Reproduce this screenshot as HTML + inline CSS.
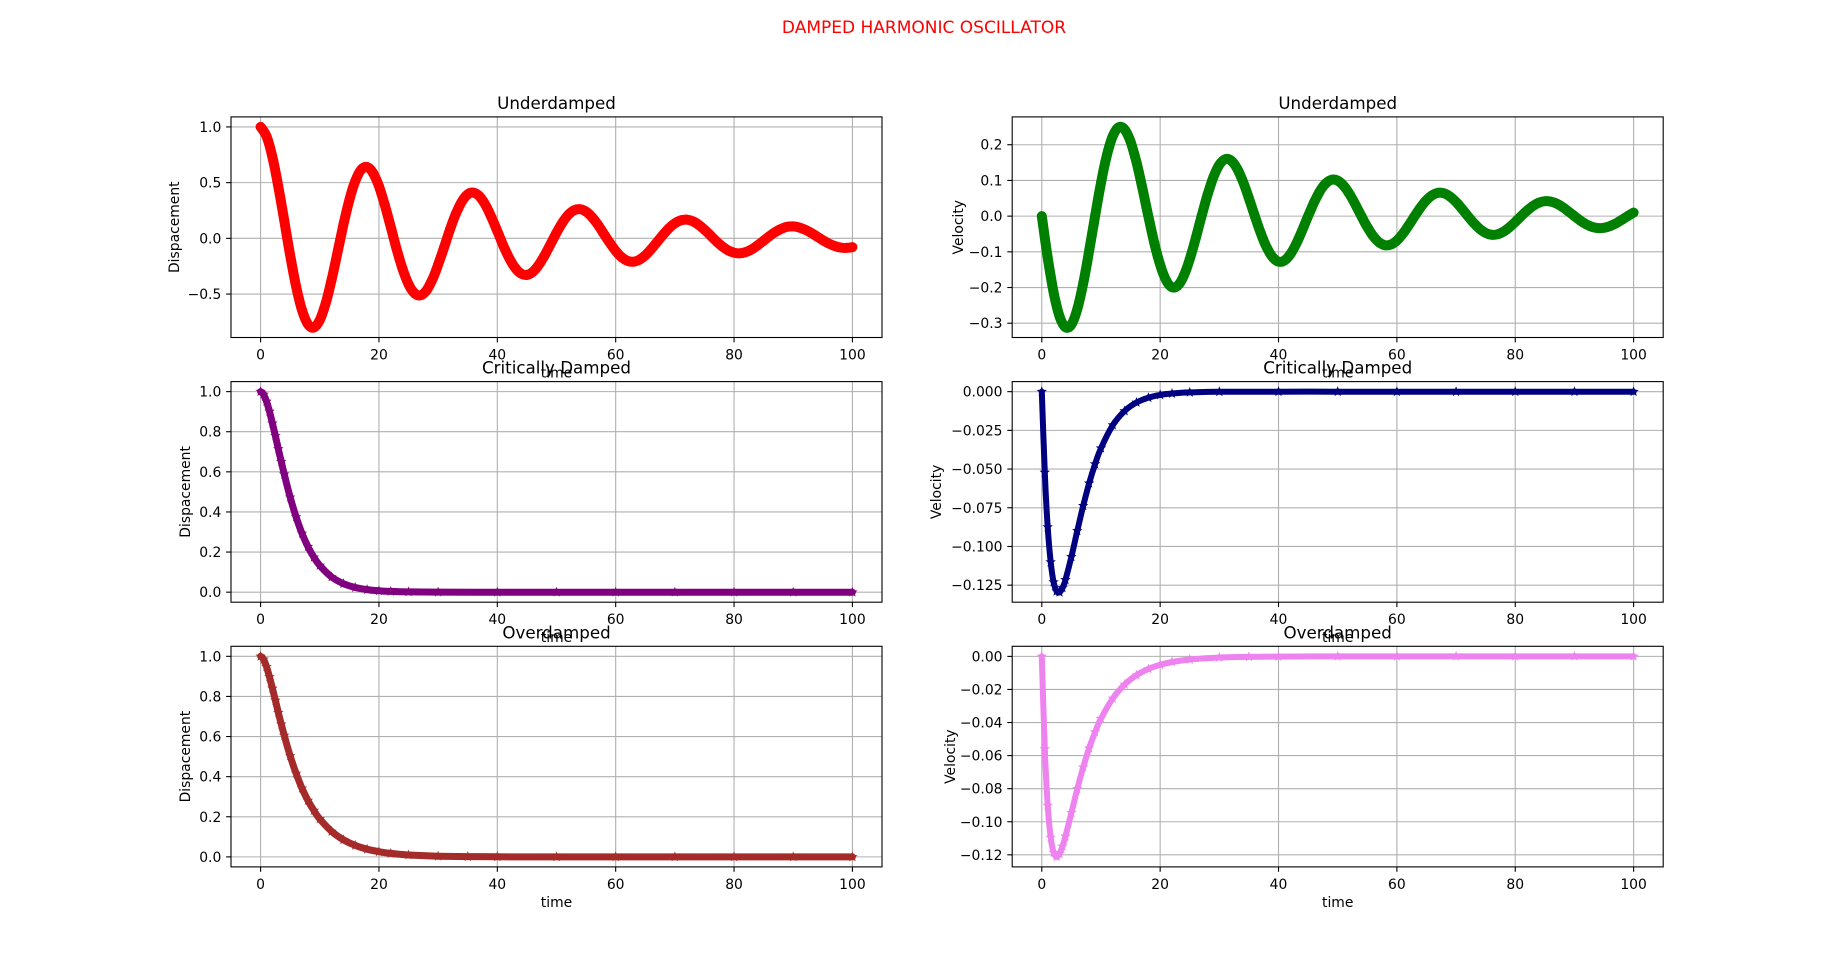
<!DOCTYPE html>
<html><head><meta charset="utf-8"><style>
html,body{margin:0;padding:0;background:#fff;}
svg{display:block;font-family:"DejaVu Sans","Liberation Sans",sans-serif;}
</style></head><body>
<svg id="fig" width="1848" height="974" viewBox="0 0 1848 974" xmlns="http://www.w3.org/2000/svg">
<rect width="1848" height="974" fill="#fff"/>
<text x="924" y="33" text-anchor="middle" font-size="17" fill="#ff0000">DAMPED HARMONIC OSCILLATOR</text>
</svg>
<script>
const udTime = [0,1,2,3,4,5,6,7,8,9,10,11,12,13,14,15,16,17,18,19,20,21,22,23,24,25,26,27,28,29,30,31,32,33,34,35,36,37,38,39,40,41,42,43,44,45,46,47,48,49,50,51,52,53,54,55,56,57,58,59,60,61,62,63,64,65,66,67,68,69,70,71,72,73,74,75,76,77,78,79,80,81,82,83,84,85,86,87,88,89,90,91,92,93,94,95,96,97,98,99,100];
const udDisp = [1,.917,.729,.464,.158,-.154,-.431,-.644,-.771,-.800,-.734,-.583,-.371,-.126,.123,.345,.515,.617,
.640,.587,.467,.297,.101,-.099,-.276,-.412,-.493,-.512,-.470,-.373,-.237,-.081,.079,.221,.330,.395,
.410,.376,.299,.190,.065,-.063,-.177,-.264,-.316,-.328,-.301,-.239,-.152,-.052,.050,.141,.211,.253,
.262,.240,.191,.122,.041,-.040,-.113,-.169,-.202,-.210,-.192,-.153,-.097,-.033,.032,.090,.135,.162,
.168,.154,.122,.078,.027,-.026,-.072,-.108,-.129,-.134,-.123,-.098,-.062,-.021,.021,.058,.086,.104,
.107,.098,.078,.050,.017,-.017,-.046,-.069,-.083,-.086,-.079];
const udVel = [0,-.1164,-.2136,-.2806,-.3113,-.3037,-.2605,-.1887,-.0979,0,.0931,.1708,.2245,.2490,.2429,.2084,.1509,.0783,
0,-.0745,-.1367,-.1796,-.1992,-.1944,-.1667,-.1208,-.0627,0,.0596,.1093,.1437,.1594,.1555,.1334,.0966,.0501,
0,-.0477,-.0875,-.1149,-.1275,-.1244,-.1067,-.0773,-.0401,0,.0381,.0700,.0920,.1020,.0995,.0854,.0618,.0321,
0,-.0305,-.0560,-.0735,-.0816,-.0796,-.0683,-.0495,-.0257,0,.0244,.0448,.0588,.0653,.0637,.0546,.0396,.0205,
0,-.0195,-.0358,-.0471,-.0522,-.0510,-.0437,-.0317,-.0164,0,.0156,.0287,.0377,.0418,.0408,.0350,.0253,.0131,
0,-.0125,-.0229,-.0301,-.0334,-.0326,-.0280,-.0203,-.0105,0,.0100];
const cdTime = [0,0.5,1,1.5,2,2.5,3,3.5,4,5,6,7,8,9,10,12,14,16,18,20,22,25,30,40,50,60,70,80,90,100];
const cdDisp = [1,.986,.951,.901,.842,.779,.714,.650,.588,.473,.375,.293,.227,.174,.133,.0758,.0424,.0235,.0128,.0069,.0037,.0015,.0003,0,0,0,0,0,0,0];
const cdVel = [0,-.0522,-.0875,-.1101,-.1230,-.1289,-.1296,-.1268,-.1215,-.1067,-.0899,-.0737,-.0592,-.0468,-.0365,-.0216,-.0125,-.0070,-.0039,-.0021,-.0012,-.0005,-.0001,0,0,0,0,0,0,0];
const odTime = [0,0.5,1,1.5,2,2.5,3,3.5,4,5,6,7,8,9,10,12,14,16,18,20,22,25,30,35,40,50,60,70,80,90,100];
const odDisp = [1,.985,.948,.897,.840,.780,.719,.661,.605,.503,.416,.342,.281,.231,.189,.127,.0851,.0571,.0382,.0256,.0172,.0094,.0035,.0013,.0004,0,0,0,0,0,0];
const odVel = [0,-.0560,-.0902,-.1095,-.1186,-.1212,-.1194,-.1149,-.1088,-.0946,-.0801,-.0670,-.0555,-.0458,-.0376,-.0254,-.0170,-.0114,-.0076,-.0051,-.0034,-.0019,-.0007,-.0003,-.0001,0,0,0,0,0,0];
const xTicks = [0,20,40,60,80,100];
const udDispTicks = [-0.5,0,0.5,1.0];
const udDispTickLabels = ["−0.5","0.0","0.5","1.0"];
const udVelTicks = [-0.3,-0.2,-0.1,0,0.1,0.2];
const udVelTickLabels = ["−0.3","−0.2","−0.1","0.0","0.1","0.2"];
const dispTicks = [0,0.2,0.4,0.6,0.8,1.0];
const dispTickLabels = ["0.0","0.2","0.4","0.6","0.8","1.0"];
const cdVelTicks = [0,-0.025,-0.05,-0.075,-0.1,-0.125];
const cdVelTickLabels = ["0.000","−0.025","−0.050","−0.075","−0.100","−0.125"];
const odVelTicks = [0,-0.02,-0.04,-0.06,-0.08,-0.1,-0.12];
const odVelTickLabels = ["0.00","−0.02","−0.04","−0.06","−0.08","−0.10","−0.12"];

const svg = document.getElementById('fig');
const NS = 'http://www.w3.org/2000/svg';
const W = 651, H = 220.6;
const cols = [231, 1012.2];
const rows = [116.9, 381.6, 646.3];

function mk(tag, attrs, parent){
  const e = document.createElementNS(NS, tag);
  for (const k in attrs) e.setAttribute(k, attrs[k]);
  (parent||svg).appendChild(e);
  return e;
}
function starPath(cx, cy, r){
  let d = '';
  for (let i=0;i<10;i++){
    const rr = i%2===0 ? r : r*0.42;
    const a = -Math.PI/2 + i*Math.PI/5;
    d += (i===0?'M':'L') + (cx+rr*Math.cos(a)).toFixed(1) + ' ' + (cy+rr*Math.sin(a)).toFixed(1);
  }
  return d + 'Z';
}
function smoothPath(P){
  let d = 'M' + P[0][0].toFixed(1) + ' ' + P[0][1].toFixed(1);
  for (let i=0;i<P.length-1;i++){
    const p0 = P[Math.max(0,i-1)], p1 = P[i], p2 = P[i+1], p3 = P[Math.min(P.length-1,i+2)];
    const c1x = p1[0] + (p2[0]-p0[0])/6, c1y = p1[1] + (p2[1]-p0[1])/6;
    const c2x = p2[0] - (p3[0]-p1[0])/6, c2y = p2[1] - (p3[1]-p1[1])/6;
    d += 'C' + c1x.toFixed(1)+' '+c1y.toFixed(1)+','+c2x.toFixed(1)+' '+c2y.toFixed(1)+','+p2[0].toFixed(1)+' '+p2[1].toFixed(1);
  }
  return d;
}

const panels = [
 {name:'underdamped-displacement', col:0,row:0,t:udTime,v:udDisp,color:'#ff0000',ymin:-0.89,ymax:1.09,ticks:udDispTicks,labels:udDispTickLabels,title:'Underdamped',ylabel:'Dispacement',yoff:56,lw:10},
 {name:'underdamped-velocity', col:1,row:0,t:udTime,v:udVel,color:'#008000',ymin:-0.34,ymax:0.278,ticks:udVelTicks,labels:udVelTickLabels,title:'Underdamped',ylabel:'Velocity',yoff:53,lw:10},
 {name:'critically-damped-displacement', col:0,row:1,t:cdTime,v:cdDisp,color:'#800080',ymin:-0.05,ymax:1.05,ticks:dispTicks,labels:dispTickLabels,title:'Critically Damped',ylabel:'Dispacement',yoff:45,lw:7},
 {name:'critically-damped-velocity', col:1,row:1,t:cdTime,v:cdVel,color:'#000080',ymin:-0.136,ymax:0.0065,ticks:cdVelTicks,labels:cdVelTickLabels,title:'Critically Damped',ylabel:'Velocity',yoff:75,lw:6},
 {name:'overdamped-displacement', col:0,row:2,t:odTime,v:odDisp,color:'#a52a2a',ymin:-0.05,ymax:1.05,ticks:dispTicks,labels:dispTickLabels,title:'Overdamped',ylabel:'Dispacement',yoff:45,lw:7},
 {name:'overdamped-velocity', col:1,row:2,t:odTime,v:odVel,color:'#ee82ee',ymin:-0.1273,ymax:0.0061,ticks:odVelTicks,labels:odVelTickLabels,title:'Overdamped',ylabel:'Velocity',yoff:61,lw:6}
];

panels.forEach(p=>{
  const L = cols[p.col], T = rows[p.row];
  const X = t => L + (t+5)/110*W;
  const Y = v => T + (p.ymax - v)/(p.ymax - p.ymin)*H;
  const g = mk('g', {});
  
  
  xTicks.forEach(t=>{
    const l = mk('line',{x1:X(t),x2:X(t),y1:T,y2:T+H,stroke:'#b0b0b0','stroke-width':1.1},g);
    
    
  });
  p.ticks.forEach(v=>{
    const l = mk('line',{x1:L,x2:L+W,y1:Y(v),y2:Y(v),stroke:'#b0b0b0','stroke-width':1.1},g);
    
    
  });
  const P = p.t.map((t,i)=>[X(t), Y(p.v[i])]);
  const pl = mk('path',{d:smoothPath(P),fill:'none',stroke:p.color,'stroke-width':p.lw,'stroke-linejoin':'round','stroke-linecap':'round'},g);
  
  
  p.t.forEach((t,i)=>{
    const m = mk('path',{d:starPath(X(t),Y(p.v[i]),5.5),fill:p.color},g);
    
    
  });
  const sp = mk('rect',{x:L,y:T,width:W,height:H,fill:'none',stroke:'#000','stroke-width':1.1},g);
  
  
  xTicks.forEach(t=>{
    mk('line',{x1:X(t),x2:X(t),y1:T+H,y2:T+H+4.9,stroke:'#000','stroke-width':1.1},g);
    const tx = mk('text',{x:X(t),y:T+H+22,'text-anchor':'middle','font-size':13.9,fill:'#000'},g);
    tx.textContent = String(t);
    
    
  });
  p.ticks.forEach((v,i)=>{
    mk('line',{x1:L-4.9,x2:L,y1:Y(v),y2:Y(v),stroke:'#000','stroke-width':1.1},g);
    const ty = mk('text',{x:L-9.7,y:Y(v)+5,'text-anchor':'end','font-size':13.9,fill:'#000'},g);
    ty.textContent = p.labels[i];
    
    
  });
  const ti = mk('text',{x:L+W/2,y:T-8,'text-anchor':'middle','font-size':16.7,fill:'#000'},g);
  ti.textContent = p.title;
  
  
  const xl = mk('text',{x:L+W/2,y:T+H+40,'text-anchor':'middle','font-size':13.9,fill:'#000'},g);
  xl.textContent = 'time';
  
  
  const yx = L - p.yoff, yy = T + H/2;
  const yl = mk('text',{x:yx,y:yy,'text-anchor':'middle','dominant-baseline':'central','font-size':13.9,fill:'#000',transform:'rotate(-90 '+yx+' '+yy+')'},g);
  yl.textContent = p.ylabel;
  
  
});
</script>
</body></html>
